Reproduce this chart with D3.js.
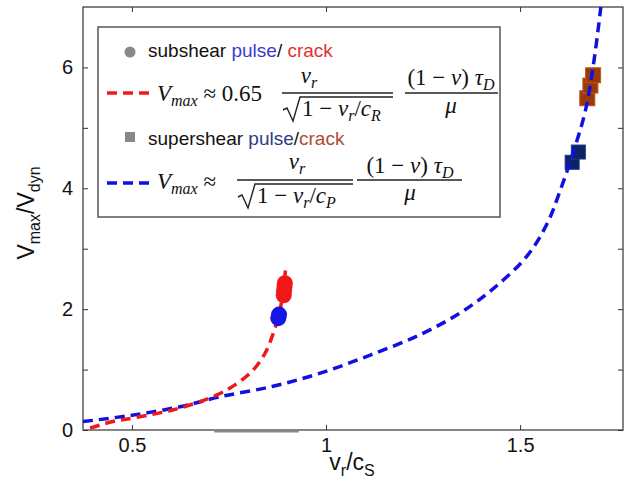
<!DOCTYPE html>
<html>
<head>
<meta charset="utf-8">
<script src="https://cdn.jsdelivr.net/npm/d3@7"></script>
<style>
  body { margin: 0; background: #fff; }
  svg { display: block; }
  .sans { font-family: "Liberation Sans", Arial, sans-serif; }
  .serif { font-family: "Liberation Serif", "Times New Roman", serif; }
</style>
</head>
<body>
<svg width="630" height="487"></svg>
<script>
// values (v_r/c_S , V_max/V_dyn)
const blueCurveX = [0.374, 0.495, 0.624, 0.727, 0.861, 0.985, 1.114, 1.243, 1.346, 1.431, 1.518, 1.570, 1.603, 1.637, 1.668, 1.690, 1.708];
const blueCurveY = [0.14, 0.24, 0.385, 0.55, 0.72, 0.94, 1.24, 1.58, 1.94, 2.34, 2.88, 3.42, 3.96, 4.60, 5.28, 6.1, 7.0];
const redCurveX = [0.392, 0.451, 0.513, 0.616, 0.719, 0.771, 0.812, 0.843, 0.864, 0.882, 0.897];
const redCurveY = [0.03, 0.14, 0.21, 0.35, 0.58, 0.77, 0.99, 1.27, 1.6, 2.0, 2.73];

const subPulse = [[0.877, 1.85], [0.879, 1.91]];
const subCrack = [[0.891, 2.23], [0.892, 2.30], [0.893, 2.37], [0.894, 2.43]];
const superPulse = [[1.634, 4.43], [1.650, 4.60]];
const superCrack = [[1.673, 5.49], [1.681, 5.70], [1.688, 5.87]];

const xTicks = [0.5, 1, 1.5];
const yTicks = [0, 1, 2, 3, 4, 5, 6];

const svg = d3.select('svg');

const x = d3.scaleLinear().domain([0.374, 1.765]).range([83, 623]);
const y = d3.scaleLinear().domain([0, 7]).range([430, 7]);

svg.append('defs').append('clipPath').attr('id', 'plot')
  .append('rect')
  .attr('x', x.range()[0]).attr('y', y.range()[1])
  .attr('width', x.range()[1] - x.range()[0])
  .attr('height', y.range()[0] - y.range()[1]);

// axes, MATLAB style: inward ticks, box
const axisColor = '#333';
function styleAxis(g) {
  g.select('.domain').remove();
  g.selectAll('.tick line').attr('stroke', axisColor);
  g.selectAll('.tick text').attr('fill', '#111')
    .attr('font-family', '"Liberation Sans", Arial, sans-serif')
    .attr('font-size', 20);
}

svg.append('g').attr('transform', `translate(0,${y(0)})`)
  .call(d3.axisBottom(x).tickValues(xTicks).tickSize(-5).tickPadding(8).tickFormat(d3.format('')))
  .call(styleAxis);
svg.append('g').attr('transform', `translate(0,${y(7)})`)
  .call(d3.axisTop(x).tickValues(xTicks).tickSize(-5).tickFormat(''))
  .call(styleAxis);
svg.append('g').attr('transform', `translate(${x.range()[0]},0)`)
  .call(d3.axisLeft(y).tickValues(yTicks).tickSize(-5).tickPadding(10)
    .tickFormat(d => d % 2 === 0 ? d : ''))
  .call(styleAxis);
svg.append('g').attr('transform', `translate(${x.range()[1]},0)`)
  .call(d3.axisRight(y).tickValues(yTicks).tickSize(-5).tickFormat(''))
  .call(styleAxis);

svg.append('rect')
  .attr('x', x.range()[0]).attr('y', y.range()[1])
  .attr('width', x.range()[1] - x.range()[0])
  .attr('height', y.range()[0] - y.range()[1])
  .attr('fill', 'none').attr('stroke', axisColor).attr('stroke-width', 1.2);

// grey smudge on the bottom axis in the original
svg.append('line')
  .attr('x1', x(0.712)).attr('x2', x(0.93))
  .attr('y1', y(0) + 1.5).attr('y2', y(0) + 1.5)
  .attr('stroke', '#888').attr('stroke-width', 2);

// axis labels
const ylab = svg.append('text').attr('class', 'sans')
  .attr('transform', 'translate(34,213) rotate(-90)')
  .attr('text-anchor', 'middle').attr('font-size', 23).attr('fill', '#111');
ylab.append('tspan').text('V');
ylab.append('tspan').text('max').attr('font-size', 16).attr('dy', 6);
ylab.append('tspan').text('/V').attr('dy', -6);
ylab.append('tspan').text('dyn').attr('font-size', 16).attr('dy', 6);

const xlab = svg.append('text').attr('class', 'sans')
  .attr('x', 352).attr('y', 470)
  .attr('text-anchor', 'middle').attr('font-size', 23).attr('fill', '#111');
xlab.append('tspan').text('v');
xlab.append('tspan').text('r').attr('font-size', 16).attr('dy', 6);
xlab.append('tspan').text('/c').attr('dy', -6);
xlab.append('tspan').text('S').attr('font-size', 16).attr('dy', 6);

// data layer
const plot = svg.append('g').attr('clip-path', 'url(#plot)');

plot.selectAll('rect.crack').data(superCrack).join('rect')
  .attr('class', 'crack')
  .attr('x', d => x(d[0]) - 7.5).attr('y', d => y(d[1]) - 7.5)
  .attr('width', 15).attr('height', 15)
  .attr('fill', '#9a3a08').attr('stroke', '#c0561a').attr('stroke-width', 1);

plot.selectAll('rect.pulse').data(superPulse).join('rect')
  .attr('class', 'pulse')
  .attr('x', d => x(d[0]) - 7).attr('y', d => y(d[1]) - 7)
  .attr('width', 14).attr('height', 14)
  .attr('fill', '#0c2466').attr('stroke', '#1d3a8a').attr('stroke-width', 1);

const line = d3.line().x(d => x(d[0])).y(d => y(d[1])).curve(d3.curveCatmullRom.alpha(0.5));

plot.append('path')
  .datum(blueCurveX.map((v, i) => [v, blueCurveY[i]]))
  .attr('d', line)
  .attr('fill', 'none').attr('stroke', '#1010e0')
  .attr('stroke-width', 3.5).attr('stroke-dasharray', '10,6');

plot.append('path')
  .datum(redCurveX.map((v, i) => [v, redCurveY[i]]))
  .attr('d', line)
  .attr('fill', 'none').attr('stroke', '#f01818')
  .attr('stroke-width', 3.5).attr('stroke-dasharray', '10,6');

plot.selectAll('circle.crack').data(subCrack).join('circle')
  .attr('class', 'crack')
  .attr('cx', d => x(d[0])).attr('cy', d => y(d[1])).attr('r', 8)
  .attr('fill', '#f01818');

plot.selectAll('circle.pulse').data(subPulse).join('circle')
  .attr('class', 'pulse')
  .attr('cx', d => x(d[0])).attr('cy', d => y(d[1])).attr('r', 8)
  .attr('fill', '#1515e6');

// legend
const lg = svg.append('g');
lg.append('rect')
  .attr('x', 98).attr('y', 27).attr('width', 402).attr('height', 190)
  .attr('fill', '#fff').attr('stroke', '#555').attr('stroke-width', 1.5);

lg.append('circle').attr('cx', 130).attr('cy', 52).attr('r', 5.5).attr('fill', '#888');
const t1 = lg.append('text').attr('class', 'sans').attr('x', 148).attr('y', 57)
  .attr('font-size', 19).attr('fill', '#111');
t1.append('tspan').text('subshear ');
t1.append('tspan').text('pulse').attr('fill', '#3a3ad2');
t1.append('tspan').text('/ ');
t1.append('tspan').text('crack').attr('fill', '#e03232');

lg.append('rect').attr('x', 125).attr('y', 132).attr('width', 10).attr('height', 10).attr('fill', '#888');
const t3 = lg.append('text').attr('class', 'sans').attr('x', 148).attr('y', 145)
  .attr('font-size', 19).attr('fill', '#111');
t3.append('tspan').text('supershear ');
t3.append('tspan').text('pulse').attr('fill', '#2c3c82');
t3.append('tspan').text('/');
t3.append('tspan').text('crack').attr('fill', '#b04a30');

lg.append('line').attr('x1', 107).attr('x2', 153).attr('y1', 93).attr('y2', 93)
  .attr('stroke', '#f01818').attr('stroke-width', 3.5).attr('stroke-dasharray', '10,6');
lg.append('line').attr('x1', 107).attr('x2', 153).attr('y1', 183).attr('y2', 183)
  .attr('stroke', '#1010e0').attr('stroke-width', 3.5).attr('stroke-dasharray', '10,6');

// math pieces: [text, italic, subscript]
const FS = 23, SFS = 16;
function mathText(px, py, parts, anchor) {
  const t = lg.append('text').attr('class', 'serif')
    .attr('x', px).attr('y', py).attr('font-size', FS).attr('fill', '#111')
    .attr('text-anchor', anchor || 'start');
  let sub = false;
  parts.forEach(p => {
    const s = t.append('tspan').text(p[0]).attr('font-style', p[1] ? 'italic' : 'normal');
    if (p[2] && !sub) { s.attr('font-size', SFS).attr('dy', 5); sub = true; }
    else if (!p[2] && sub) { s.attr('dy', -5); sub = false; }
    else if (p[2]) s.attr('font-size', SFS);
  });
  return t;
}
function bar(x1, x2, yy) {
  lg.append('line').attr('x1', x1).attr('x2', x2).attr('y1', yy).attr('y2', yy)
    .attr('stroke', '#222').attr('stroke-width', 1.4);
}
function sqrtSign(x0, top, bottom, x2) {
  lg.append('path')
    .attr('d', `M${x0},${bottom - 11} L${x0 + 4},${bottom - 13} L${x0 + 10},${bottom} L${x0 + 17},${top} L${x2},${top}`)
    .attr('fill', 'none').attr('stroke', '#222').attr('stroke-width', 1.4);
}

// row 2
mathText(157, 101, [['V', true], ['max', true, true], [' \u2248 0.65', false]]);
mathText(309, 83, [['v', true], ['r', true, true]], 'middle');
bar(282, 393, 93);
sqrtSign(283, 97, 121, 393);
mathText(302, 116, [['1 \u2212 ', false], ['v', true], ['r', true, true], ['/', false], ['c', true], ['R', true, true]]);
mathText(451, 85, [['(1 \u2212 ', false], ['\u03BD', true], [') ', false], ['\u03C4', true], ['D', true, true]], 'middle');
bar(405, 498, 93);
mathText(451, 113, [['\u03BC', true]], 'middle');

// row 4
mathText(157, 189, [['V', true], ['max', true, true], [' \u2248', false]]);
mathText(297, 169, [['v', true], ['r', true, true]], 'middle');
bar(237, 353, 180);
sqrtSign(238, 184, 208, 353);
mathText(257, 203, [['1 \u2212 ', false], ['v', true], ['r', true, true], ['/', false], ['c', true], ['P', true, true]]);
mathText(410, 173, [['(1 \u2212 ', false], ['\u03BD', true], [') ', false], ['\u03C4', true], ['D', true, true]], 'middle');
bar(357, 462, 180);
mathText(410, 200, [['\u03BC', true]], 'middle');
</script>
</body>
</html>
